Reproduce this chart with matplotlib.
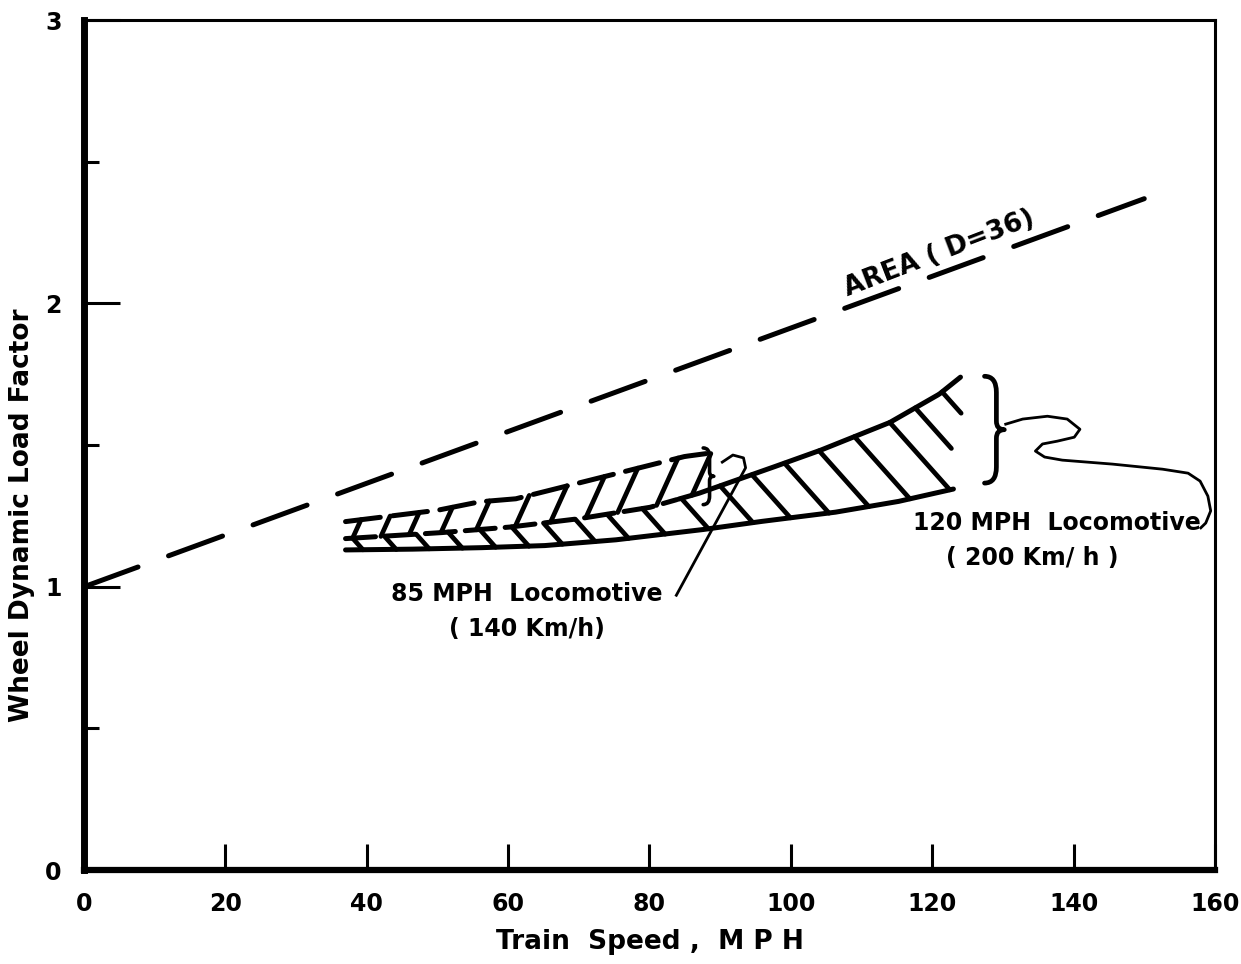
import numpy as np
import matplotlib
matplotlib.use("Agg")
import matplotlib.pyplot as plt
from matplotlib.path import Path
from matplotlib.patches import PathPatch

# AREA (D=36) reference line
area_speed = [0, 150]
area_factor = [1.0, 2.37]

# 120 MPH locomotive band
loco120_speed_hi = [37, 50, 60, 70, 80, 87, 95, 104, 114, 121, 124]
loco120_hi = [1.17, 1.19, 1.21, 1.24, 1.28, 1.33, 1.40, 1.48, 1.58, 1.68, 1.74]
loco120_speed_lo = [37, 45, 55, 65, 75, 87, 95, 106, 115, 123]
loco120_lo = [1.13, 1.132, 1.137, 1.145, 1.165, 1.20, 1.228, 1.262, 1.30, 1.345]

# 85 MPH locomotive band (lower edge is the 120 MPH upper edge)
loco85_speed_hi = [37, 50, 56, 61, 69, 77, 85, 88]
loco85_hi = [1.23, 1.27, 1.30, 1.31, 1.36, 1.41, 1.46, 1.47]

# hatch stroke positions (speed where each stroke starts)
hatch120 = [38, 42.5, 47, 51.5, 56, 60.5, 65, 69.5, 74, 79, 84.5, 90, 94.5,
            99.1, 104, 109, 114, 117.6, 121.4]
hatch120_reach = [1] * 17 + [0.5, 0.22]
hatch85 = [38, 42, 46, 50.5, 55.5, 61, 66, 71, 75.5, 81, 86]

x_ticks = [0, 20, 40, 60, 80, 100, 120, 140, 160]
y_ticks = [0, 1, 2, 3]

LW = 3.6

plt.rcParams["font.family"] = ["DejaVu Sans"]
plt.rcParams["font.weight"] = "bold"
plt.rcParams["axes.labelweight"] = "bold"

fig = plt.figure(figsize=(12.41, 9.64), dpi=100)
ax = fig.add_axes([0.0677, 0.0975, 0.9113, 0.8815])
ax.set_xlim(0, 160)
ax.set_ylim(0, 3)

for side, w in [("left", 5), ("bottom", 4.5), ("top", 2.2), ("right", 2.2)]:
    ax.spines[side].set_linewidth(w)

ax.set_xticks(x_ticks)
ax.set_yticks(y_ticks)
ax.set_yticks([0.5, 1.5, 2.5], minor=True)
ax.tick_params(axis="x", direction="in", length=19, width=2.2, pad=16, labelsize=17)
ax.tick_params(axis="y", direction="in", length=26, width=2.2, pad=16, labelsize=17)
ax.tick_params(axis="y", which="minor", direction="in", length=11, width=2.2)
ax.set_xlabel("Train  Speed ,  M P H", fontsize=19)
ax.set_ylabel("Wheel Dynamic Load Factor", fontsize=19)
ax.xaxis.set_label_coords(0.5, -0.07)
ax.yaxis.set_label_coords(-0.043, 0.418)

# dashed reference line
ax.plot(area_speed, area_factor, color="black", lw=LW, ls=(0, (11.5, 6.5)),
        dash_capstyle="round")
ax.text(121, 2.175, "AREA ( D=36)", fontsize=19, rotation=21,
        rotation_mode="anchor", ha="center", va="center")

# band edges
grid = np.linspace(37, 124, 300)
hi120 = np.interp(grid, loco120_speed_hi, loco120_hi)
g_lo = np.linspace(37, 123, 300)
lo120 = np.interp(g_lo, loco120_speed_lo, loco120_lo)
ax.plot(g_lo, lo120, color="black", lw=LW, solid_capstyle="round")
right = grid >= 84
ax.plot(grid[right], hi120[right], color="black", lw=LW, solid_capstyle="round")
ax.plot(grid[~right], hi120[~right], color="black", lw=LW, ls=(0, (6, 2)),
        dash_capstyle="round")
g85 = np.linspace(37, 88, 200)
hi85 = np.interp(g85, loco85_speed_hi, loco85_hi)
ax.plot(g85, hi85, color="black", lw=LW, ls=(0, (7, 2.5)), dash_capstyle="round")

# 120 MPH hatching: strokes running down-right from the upper edge
s = np.linspace(0, 15, 1500)
for t, reach in zip(hatch120, hatch120_reach):
    y0 = np.interp(t, loco120_speed_hi, loco120_hi)
    ys = y0 - 0.028 * s
    lo = np.interp(t + s, loco120_speed_lo, loco120_lo)
    k = np.argmax(ys <= lo)
    k = max(int(k * reach), 1)
    ax.plot([t, t + s[k]], [y0, ys[k]], color="black", lw=3.4,
            solid_capstyle="round")

# 85 MPH hatching: strokes running up-right to the upper edge
for t in hatch85:
    y0 = np.interp(t, loco120_speed_hi, loco120_hi)
    ys = y0 + 0.055 * s
    up = np.interp(t + s, loco85_speed_hi, loco85_hi)
    k = max(int(np.argmax(ys >= up)), 1)
    ax.plot([t, t + s[k]], [y0, ys[k]], color="black", lw=3.4,
            solid_capstyle="round")


def brace(x, y_bot, y_top, w, lw):
    h = y_top - y_bot
    ym = (y_top + y_bot) / 2
    xs = x + 0.6 * w
    verts = [(x, y_top), (xs, y_top), (xs, y_top - 0.15 * h),
             (xs, ym + 0.08 * h), (xs, ym), (x + w, ym),
             (xs, ym), (xs, ym - 0.08 * h),
             (xs, y_bot + 0.15 * h), (xs, y_bot), (x, y_bot)]
    codes = [Path.MOVETO, Path.CURVE3, Path.CURVE3, Path.LINETO,
             Path.CURVE3, Path.CURVE3, Path.CURVE3, Path.CURVE3,
             Path.LINETO, Path.CURVE3, Path.CURVE3]
    ax.add_patch(PathPatch(Path(verts, codes), fill=False, lw=lw,
                           capstyle="round", joinstyle="round"))


brace(127.4, 1.366, 1.743, 2.8, 3.4)
brace(87.6, 1.29, 1.49, 1.5, 2.6)

# leader lines
lead120_x = [130.4, 132.8, 136.3, 139.1, 140.9, 140.1, 137.7, 135.6, 134.6,
             135.9, 138.4, 145.5, 152.6, 156.2, 157.9, 159.0, 159.4, 158.7, 158.0]
lead120_y = [1.574, 1.592, 1.602, 1.592, 1.556, 1.528, 1.514, 1.504, 1.479,
             1.458, 1.447, 1.433, 1.415, 1.401, 1.373, 1.320, 1.268, 1.225, 1.208]
ax.plot(lead120_x, lead120_y, color="black", lw=2.0, solid_joinstyle="round")
lead85_x = [83.8, 93.6, 93.3, 91.8, 90.3]
lead85_y = [0.97, 1.42, 1.455, 1.465, 1.44]
ax.plot(lead85_x, lead85_y, color="black", lw=2.0, solid_joinstyle="round")

ax.text(62.6, 0.975, "85 MPH  Locomotive", fontsize=17, ha="center", va="center")
ax.text(62.6, 0.85, "( 140 Km/h)", fontsize=17, ha="center", va="center")
ax.text(137.6, 1.225, "120 MPH  Locomotive", fontsize=17, ha="center", va="center")
ax.text(134.2, 1.10, "( 200 Km/ h )", fontsize=17, ha="center", va="center")

fig.savefig("out.png", dpi=100)
